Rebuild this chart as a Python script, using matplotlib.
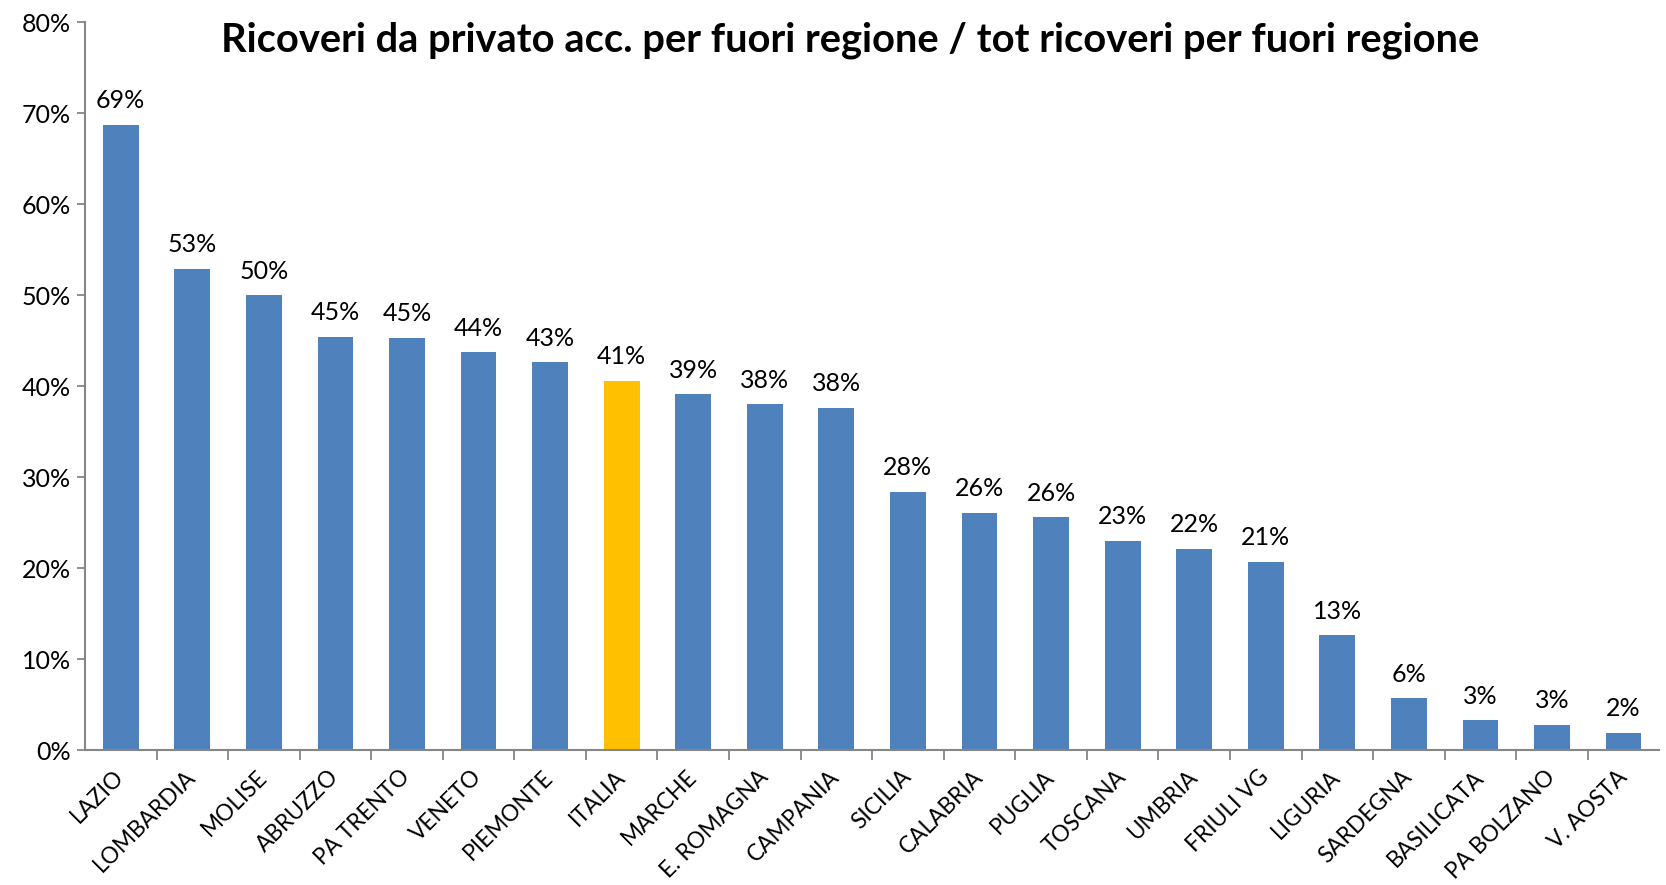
import matplotlib
matplotlib.use("Agg")
import matplotlib.pyplot as plt
import numpy as np

# Dati
regioni = ['LAZIO', 'LOMBARDIA', 'MOLISE', 'ABRUZZO', 'PA TRENTO', 'VENETO',
           'PIEMONTE', 'ITALIA', 'MARCHE', 'E. ROMAGNA', 'CAMPANIA', 'SICILIA',
           'CALABRIA', 'PUGLIA', 'TOSCANA', 'UMBRIA', 'FRIULI VG', 'LIGURIA',
           'SARDEGNA', 'BASILICATA', 'PA BOLZANO', 'V. AOSTA']
valori = [68.7, 52.9, 50.0, 45.4, 45.3, 43.7, 42.6, 40.6, 39.1, 38.0, 37.6,
          28.4, 26.1, 25.6, 23.0, 22.1, 20.7, 12.6, 5.7, 3.3, 2.8, 1.9]
evidenza = 'ITALIA'

blu = '#4F81BD'
giallo = '#FFC000'
grigio = '#868686'

plt.rcParams['font.family'] = ['Lato', 'DejaVu Sans']

fig = plt.figure(figsize=(16.66, 8.85), dpi=100)
ax = fig.add_axes([0.051, 0.1525, 0.945, 0.8225])

x = np.arange(len(regioni))
colori = [giallo if r == evidenza else blu for r in regioni]
ax.bar(x, valori, width=0.5, color=colori, zorder=2)

# etichette sopra le barre
for xi, v in zip(x, valori):
    ax.annotate(f'{round(v):.0f}%', (xi, v), xytext=(0, 9), textcoords='offset points',
                ha='center', va='bottom', fontsize=18)

ax.set_xlim(-0.5, len(regioni) - 0.5)
ax.set_ylim(0, 80)
ax.set_yticks(np.arange(0, 81, 10))
ax.set_yticklabels([f'{t}%' for t in range(0, 81, 10)], fontsize=18)

ax.set_xticks(x)
ax.set_xticklabels(regioni, rotation=45, ha='right', va='center',
                   rotation_mode='anchor', fontsize=16.3)
ax.tick_params(axis='x', length=0, pad=17)
ax.set_xticks(np.arange(0.5, len(regioni) - 0.5, 1), minor=True)
ax.tick_params(axis='x', which='minor', length=7, width=1.3, color=grigio)
ax.tick_params(axis='y', length=6, width=1.3, color=grigio, pad=4)

for s in ['top', 'right']:
    ax.spines[s].set_visible(False)
for s in ['left', 'bottom']:
    ax.spines[s].set_color(grigio)
    ax.spines[s].set_linewidth(1.5)

fig.text(0.51, 0.955, 'Ricoveri da privato acc. per fuori regione / tot ricoveri per fuori regione',
         ha='center', va='center', fontsize=28.7, fontweight='bold')

fig.savefig('out.png', dpi=100)
